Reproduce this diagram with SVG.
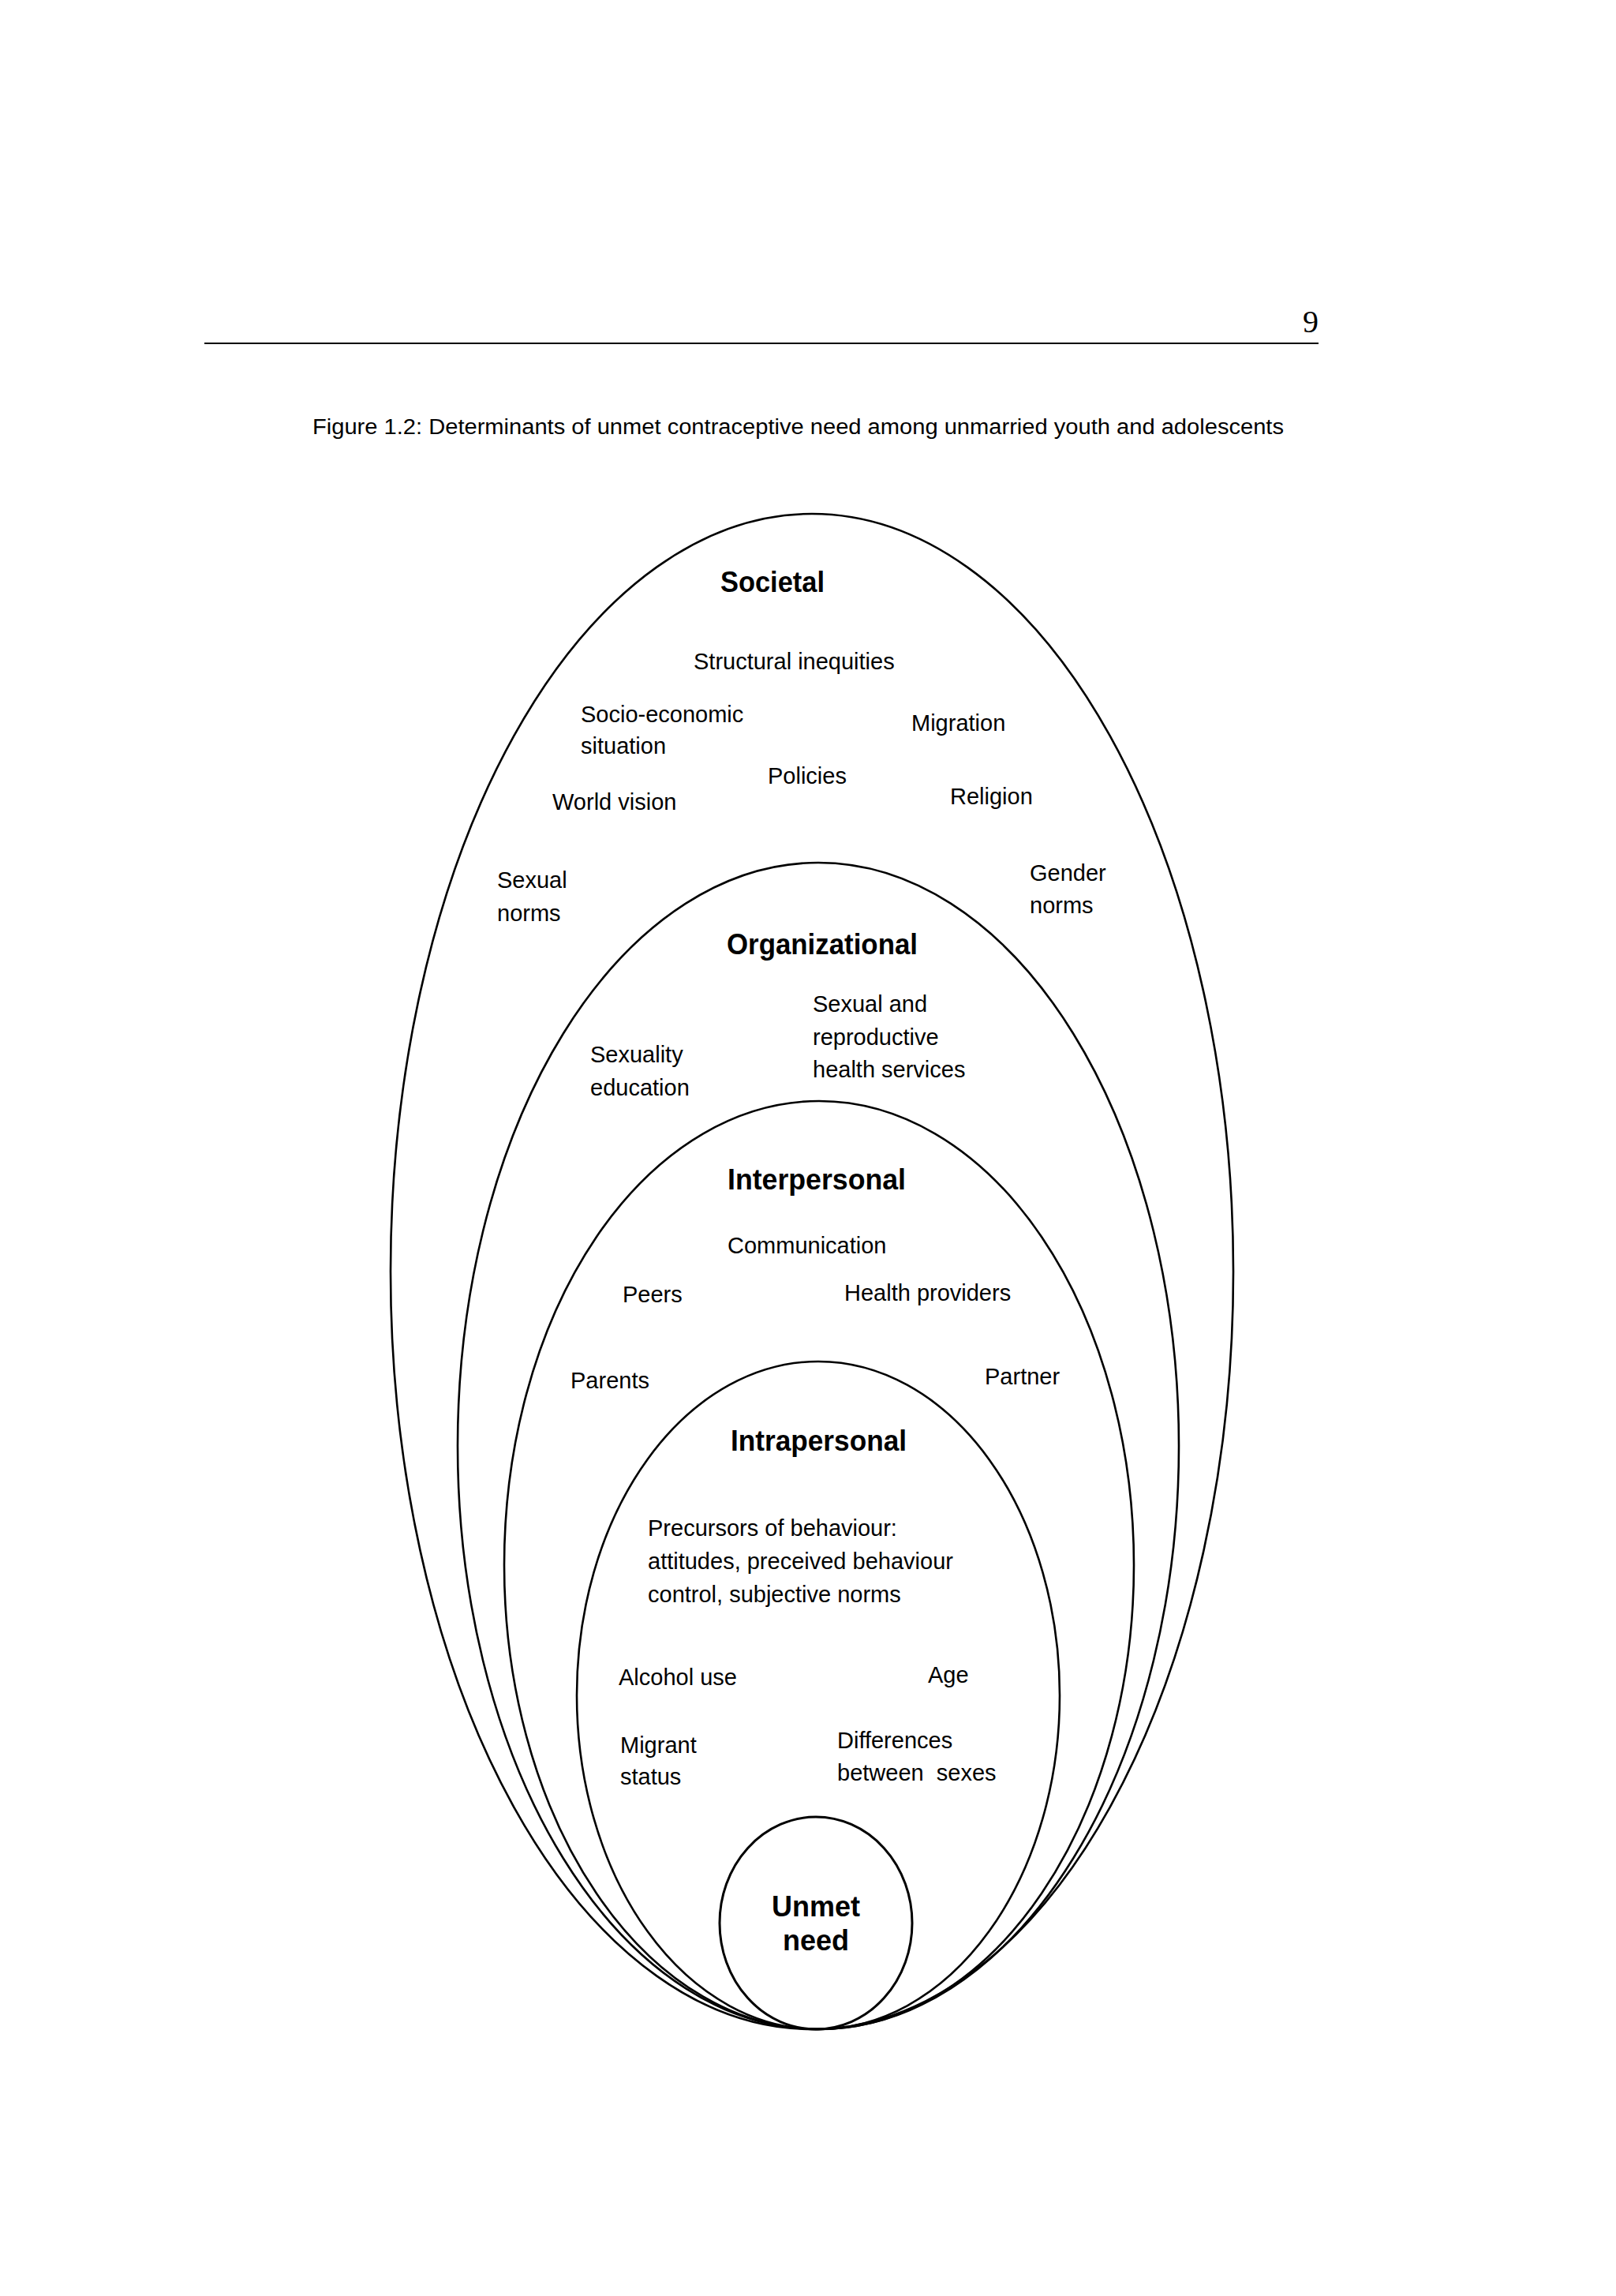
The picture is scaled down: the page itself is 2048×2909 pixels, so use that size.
<svg xmlns="http://www.w3.org/2000/svg" width="2048" height="2909" viewBox="0 0 2048 2909">
<style>
.ring{fill:none;stroke:#000;stroke-width:2.6}
.t{font-family:"Liberation Sans",Arial,sans-serif;font-size:29px;fill:#000}
.h{font-family:"Liberation Sans",Arial,sans-serif;font-size:36px;font-weight:bold;fill:#000}
.cap{font-family:"Liberation Sans",Arial,sans-serif;font-size:27px;fill:#000}
.pg{font-family:"Liberation Serif","Times New Roman",serif;font-size:40px;fill:#000}
</style>
<rect width="2048" height="2909" fill="#fff"/>
<g id="page-header">
<text class="pg" x="1671" y="421" text-anchor="end">9</text>
<line x1="259" y1="435" x2="1671" y2="435" stroke="#000" stroke-width="2"/>
</g>
<text id="caption" class="cap" x="396" y="550" textLength="1231" lengthAdjust="spacingAndGlyphs">Figure 1.2: Determinants of unmet contraceptive need among unmarried youth and adolescents</text>
<g id="societal">
<ellipse class="ring" cx="1029" cy="1611" rx="534" ry="960"/>
<text class="h" x="913" y="750" textLength="132" lengthAdjust="spacingAndGlyphs">Societal</text>
<text class="t" x="879" y="848">Structural inequities</text>
<text class="t" x="736" y="915">Socio-economic</text>
<text class="t" x="736" y="955">situation</text>
<text class="t" x="1155" y="926">Migration</text>
<text class="t" x="973" y="993">Policies</text>
<text class="t" x="700" y="1026">World vision</text>
<text class="t" x="1204" y="1019">Religion</text>
<text class="t" x="630" y="1125">Sexual</text>
<text class="t" x="630" y="1167">norms</text>
<text class="t" x="1305" y="1116">Gender</text>
<text class="t" x="1305" y="1157">norms</text>
</g>
<g id="organizational">
<ellipse class="ring" cx="1037" cy="1832" rx="457" ry="739"/>
<text class="h" x="921" y="1209" textLength="242" lengthAdjust="spacingAndGlyphs">Organizational</text>
<text class="t" x="1030" y="1282">Sexual and</text>
<text class="t" x="1030" y="1324">reproductive</text>
<text class="t" x="1030" y="1365">health services</text>
<text class="t" x="748" y="1346">Sexuality</text>
<text class="t" x="748" y="1388">education</text>
</g>
<g id="interpersonal">
<ellipse class="ring" cx="1038" cy="1983" rx="399" ry="588"/>
<text class="h" x="922" y="1507" textLength="226" lengthAdjust="spacingAndGlyphs">Interpersonal</text>
<text class="t" x="922" y="1588">Communication</text>
<text class="t" x="789" y="1650">Peers</text>
<text class="t" x="1070" y="1648">Health providers</text>
<text class="t" x="723" y="1759">Parents</text>
<text class="t" x="1248" y="1754">Partner</text>
</g>
<g id="intrapersonal">
<ellipse class="ring" cx="1037" cy="2148" rx="306" ry="423"/>
<text class="h" x="926" y="1838" textLength="223" lengthAdjust="spacingAndGlyphs">Intrapersonal</text>
<text class="t" x="821" y="1946">Precursors of behaviour:</text>
<text class="t" x="821" y="1988">attitudes, preceived behaviour</text>
<text class="t" x="821" y="2030">control, subjective norms</text>
<text class="t" x="784" y="2135">Alcohol use</text>
<text class="t" x="1176" y="2132">Age</text>
<text class="t" x="786" y="2221">Migrant</text>
<text class="t" x="786" y="2261">status</text>
<text class="t" x="1061" y="2215">Differences</text>
<text class="t" x="1061" y="2256" xml:space="preserve">between  sexes</text>
</g>
<g id="unmet-need">
<ellipse class="ring" cx="1034" cy="2436.5" rx="122" ry="134.5" style="stroke-width:3"/>
<text class="h" x="1034" y="2428" text-anchor="middle">Unmet</text>
<text class="h" x="1034" y="2471" text-anchor="middle">need</text>
</g>
</svg>
